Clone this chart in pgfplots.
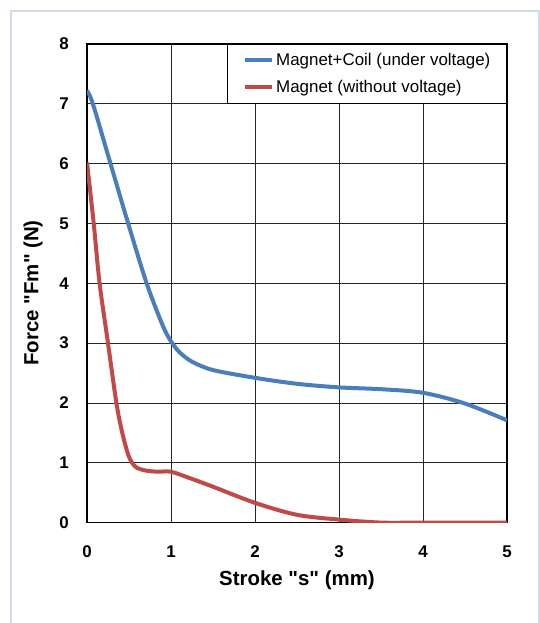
\documentclass[border=0pt]{standalone}
\usepackage{fontspec}
\setmainfont{Liberation Sans}[Ligatures=TeXOff]
\usepackage{pgfplots}
\pgfplotsset{compat=1.18}
\definecolor{exblue}{HTML}{4A7EBB}
\definecolor{exred}{HTML}{BE4B48}
\definecolor{framec}{HTML}{D3DBF0}

\begin{document}
\begin{tikzpicture}
\useasboundingbox (0,0) rectangle (540bp,623bp);
\draw[framec, line width=2bp] (11bp,0) -- (11bp,612bp) -- (539bp,612bp) -- (539bp,0);
\begin{axis}[
  at={(87bp,100.4bp)}, anchor=south west,
  scale only axis, width=420bp, height=478.6bp,
  xmin=0, xmax=5, ymin=0, ymax=8,
  xtick={0,...,5}, ytick={0,...,8},
  grid=major, grid style={black!85, line width=0.9bp},
  axis line style={black, line width=1.2bp},
  major tick length=0pt,
  /pgf/number format/assume math mode=true,
  ticklabel style={font=\fontsize{17}{20}\selectfont\bfseries, inner sep=0pt},
  xticklabel style={yshift=-22.8bp},
  yticklabel style={xshift=-18bp},
  xlabel={Stroke "s" (mm)},
  ylabel={Force "Fm" (N)},
  label style={font=\fontsize{20.5}{24}\selectfont\bfseries},
  xlabel style={at={(rel axis cs:0.5,-0.1199)}, anchor=center},
  ylabel style={at={(rel axis cs:-0.1286,0.48)}, anchor=center},
  legend style={at={(rel axis cs:1,1)}, anchor=north east, draw=black,
    line width=1.2bp, fill=white, inner xsep=16bp, inner ysep=9bp,
    row sep=13bp, column sep=2bp,
    nodes={inner sep=0pt, font=\fontsize{17}{20}\selectfont}},
  legend cell align=left,
  legend image code/.code={\draw[#1, line width=4bp] (0bp,0bp) -- (27bp,0bp);},
]
\addplot[exblue, line width=4bp, smooth] coordinates {
  (0,7.22) (0.07,7.0) (0.28,6.0) (0.49,5.0) (0.71,4.0) (0.9,3.3)
  (1,3.03) (1.1,2.85) (1.25,2.69) (1.5,2.55) (2,2.42) (2.5,2.32) (3,2.26)
  (3.5,2.23) (4,2.17) (4.5,1.99) (5,1.71)
};
\addlegendentry{Magnet+Coil (under voltage)}
\addplot[exred, line width=4bp, smooth] coordinates {
  (0,6.02) (0.08,5.0) (0.15,4.0) (0.25,3.0) (0.35,2.0) (0.42,1.5)
  (0.5,1.1) (0.58,0.93) (0.7,0.87) (0.85,0.85) (1,0.85) (1.25,0.73)
  (1.5,0.6) (2,0.33) (2.5,0.13) (3,0.05) (3.5,0.0) (4,0.0) (5,0.0)
};
\addlegendentry{Magnet (without voltage)}
\end{axis}
\end{tikzpicture}
\end{document}
